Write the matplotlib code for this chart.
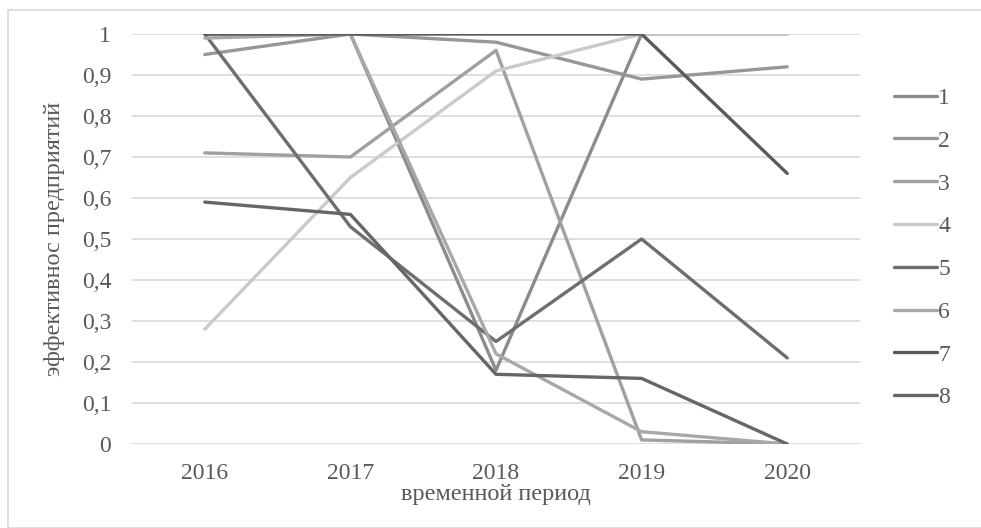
import matplotlib.pyplot as plt
from matplotlib.patches import Rectangle

plt.rcParams['font.family'] = ['Liberation Serif', 'DejaVu Serif']

years = ['2016', '2017', '2018', '2019', '2020']
names = ['1', '2', '3', '4', '5', '6', '7', '8']

s1 = [1.00, 1.00, 0.18, 1.00, 1.00]
s2 = [0.95, 1.00, 0.98, 0.89, 0.92]
s3 = [0.71, 0.70, 0.96, 0.01, 0.00]
s4 = [0.28, 0.65, 0.91, 1.00, 1.00]
s5 = [1.00, 0.53, 0.25, 0.50, 0.21]
s6 = [0.99, 1.00, 0.22, 0.03, 0.00]
s7 = [1.00, 1.00, 1.00, 1.00, 0.66]
s8 = [0.59, 0.56, 0.17, 0.16, 0.00]

series = [s1, s2, s3, s4, s5, s6, s7, s8]
colors = ['#8c8c8c', '#979797', '#a0a0a0', '#cacaca',
          '#6e6e6e', '#a8a8a8', '#5a5a5a', '#666666']
txt = '#595959'
fs = 17

fig = plt.figure(figsize=(9.81, 5.28), dpi=100)
ax = fig.add_axes([132 / 981, 1 - 444 / 528, (860 - 132) / 981, (444 - 34) / 528])

x = range(len(years))
for vals, name, c in zip(series, names, colors):
    ax.plot(x, vals, color=c, lw=2.4, label=name, solid_capstyle='round')

ax.set_xlim(-0.5, 4.5)
ax.set_ylim(0, 1)
ax.set_yticks([i / 10 for i in range(11)])
ax.set_yticklabels(['0'] + ['0,%d' % i for i in range(1, 10)] + ['1'])
ax.set_xticks(list(x))
ax.set_xticklabels(years)
ax.grid(axis='y', color='#d9d9d9', lw=1.2)
ax.set_axisbelow(True)
for sp in ax.spines.values():
    sp.set_visible(False)
ax.tick_params(length=0, labelsize=fs, colors=txt)
ax.tick_params(axis='y', pad=15)
ax.tick_params(axis='x', pad=14)

ax.set_xlabel('временной период', fontsize=17.5, color=txt, labelpad=0)
ax.set_ylabel('эффективнос предприятий', fontsize=17.5, color=txt, labelpad=12)

leg = ax.legend(loc='upper left', bbox_to_anchor=(885 / 981, 1 - 78 / 528),
                bbox_transform=fig.transFigure, frameon=False, fontsize=fs,
                handlelength=1.8, handletextpad=0.05, labelspacing=0.9,
                borderaxespad=0)
for t in leg.get_texts():
    t.set_color(txt)

fig.patches.append(Rectangle((8 / 981, 0), 1, 1 - 10 / 528, transform=fig.transFigure,
                             fill=False, edgecolor='#d9d9d9', lw=1.2))

fig.savefig('out.png', dpi=100)
